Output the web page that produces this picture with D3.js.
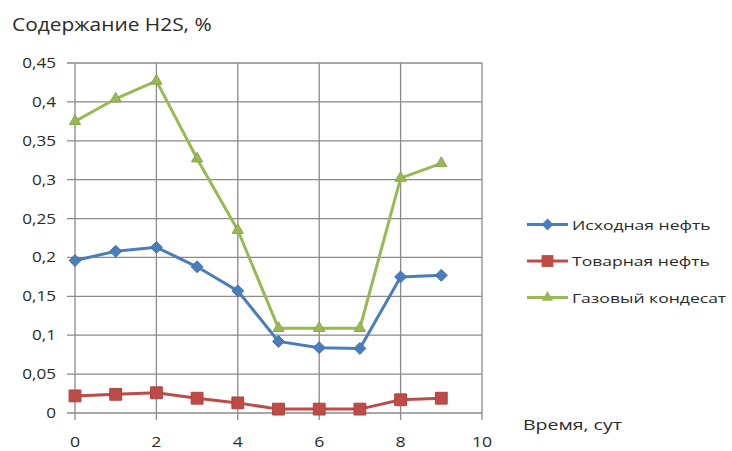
<!DOCTYPE html>
<html><head><meta charset="utf-8">
<script src="https://cdn.jsdelivr.net/npm/d3@7"></script>
<style>body{margin:0;background:#fff}svg{display:block}text{font-family:"Open Sans",sans-serif;fill:#2a2a2a}</style>
</head><body><svg id="c" width="732" height="451"></svg>
<script>
const xValues = [0,1,2,3,4,5,6,7,8,9];
const seriesNames = ["Исходная нефть","Товарная нефть","Газовый кондесат"];
const initialOil = [0.196,0.208,0.213,0.188,0.157,0.092,0.084,0.083,0.175,0.177];
const commercialOil = [0.022,0.024,0.026,0.019,0.013,0.005,0.005,0.005,0.017,0.019];
const gasCondensate = [0.375,0.404,0.427,0.327,0.235,0.109,0.109,0.109,0.302,0.321];
const yTicks = [0,0.05,0.1,0.15,0.2,0.25,0.3,0.35,0.4,0.45];
const xTicks = [0,2,4,6,8,10];

const svg = d3.select("#c");
const x = d3.scaleLinear().domain([0,10]).range([75,482]);
const y = d3.scaleLinear().domain([0,0.45]).range([413,63]);
const fmt = d => String(+d.toFixed(2)).replace(".", ",");

function stext(g, tx, ty, str, size, sx, anchor) {
  return g.append("text")
    .attr("transform", `translate(${tx},${ty}) scale(${sx},1)`)
    .attr("text-anchor", anchor || "start")
    .style("font-size", size + "px").text(str);
}

// gridlines
svg.append("g").selectAll("line").data(yTicks).join("line")
  .attr("x1", 67).attr("x2", x(10)).attr("y1", d=>y(d)).attr("y2", d=>y(d))
  .attr("stroke", "#8a8a8a").attr("stroke-width", 1.3);
svg.append("g").selectAll("line").data(xTicks).join("line")
  .attr("y1", y(0.45)).attr("y2", y(0)+7).attr("x1", d=>x(d)).attr("x2", d=>x(d))
  .attr("stroke", "#8a8a8a").attr("stroke-width", 1.3);

// tick labels
const yt = svg.append("g");
yTicks.forEach(d => stext(yt, 56, y(d)+5, fmt(d), 14.5, 1.18, "end"));
const xt = svg.append("g");
xTicks.forEach(d => stext(xt, x(d), 447, d, 14.5, 1.22, "middle"));

stext(svg, 12, 31, "Содержание H2S, %", 18.5, 1.13);
stext(svg, 523, 430, "Время, сут", 15, 1.3);

const series = [
  {name: seriesNames[0], values: initialOil, color:"#4a7ebb", shape:"diamond"},
  {name: seriesNames[1], values: commercialOil, color:"#be4b48", shape:"square"},
  {name: seriesNames[2], values: gasCondensate, color:"#98b954", shape:"triangle"}
];
const sym = {diamond: d3.symbol().type(d3.symbolDiamond2).size(90),
             square: d3.symbol().type(d3.symbolSquare).size(140),
             triangle: d3.symbol().type(d3.symbolTriangle2).size(90)};
const line = d3.line().x((d,i)=>x(xValues[i])).y(d=>y(d));

series.forEach(s => {
  svg.append("path").attr("d", line(s.values)).attr("fill","none")
    .attr("stroke", s.color).attr("stroke-width", 3);
  svg.append("g").selectAll("path").data(s.values).join("path")
    .attr("transform",(d,i)=>`translate(${x(xValues[i])},${y(d)})`)
    .attr("d", sym[s.shape]()).attr("fill", s.color)
    .attr("stroke", d3.color(s.color).darker(0.3)).attr("stroke-width",1);
});

// legend
const lg = svg.append("g");
series.forEach((s,i) => {
  const ly = 224.5 + i*36.5;
  lg.append("line").attr("x1",527).attr("x2",568).attr("y1",ly).attr("y2",ly)
    .attr("stroke", s.color).attr("stroke-width",3);
  lg.append("path").attr("transform",`translate(547.5,${ly})`).attr("d", sym[s.shape]())
    .attr("fill", s.color);
  stext(lg, 572, ly+5, s.name, 13.5, 1.3);
});
</script></body></html>
